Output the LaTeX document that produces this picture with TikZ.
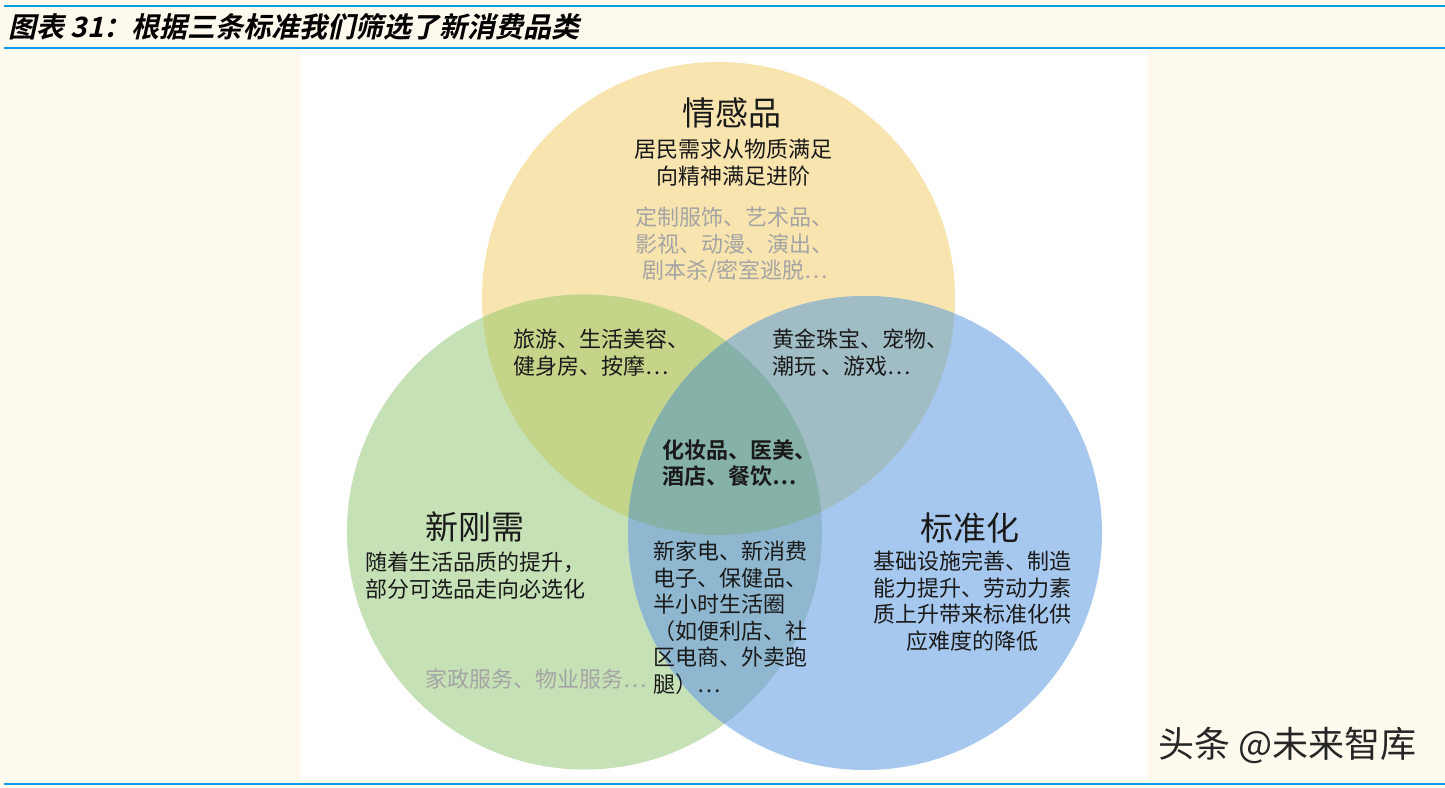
\documentclass[tikz,border=0pt]{standalone}
\usepackage{fontspec}
\newfontfamily\cjk{Noto Sans CJK SC}
\newfontfamily\cjkbold{Noto Sans CJK SC Bold}
\newfontfamily\titlefont[FakeSlant=0.22]{Noto Sans CJK SC Bold}
\definecolor{cream}{HTML}{FFF9EE}
\definecolor{rule}{HTML}{0A9BE0}
\definecolor{cY}{HTML}{F8E4AE}
\definecolor{cG}{HTML}{C6E1B6}
\definecolor{cB}{HTML}{A7C8EE}
\definecolor{cYG}{HTML}{C4D58A}
\definecolor{cYB}{HTML}{A0BCC4}
\definecolor{cGB}{HTML}{8FB8D0}
\definecolor{cYGB}{HTML}{86B1A8}
\definecolor{txt}{HTML}{1A1A1A}
\definecolor{gry}{HTML}{A4A4A4}
\tikzset{
  head/.style={inner sep=0pt, text=txt, font={\cjk\fontsize{33}{36}\selectfont}},
  body/.style={inner sep=0pt, text=txt, align=left, font={\cjk\fontsize{22}{26.5}\selectfont}},
  bodyc/.style={body, align=center},
  grey/.style={body, text=gry},
  boldbody/.style={body, font={\cjkbold\fontsize{22}{26.5}\selectfont}},
}
\begin{document}
\begin{tikzpicture}[x=1pt,y=-1pt]
\useasboundingbox (0,0) rectangle (1445,787);
\fill[cream] (0,0) rectangle (1445,787);
\fill[white] (300,49) rectangle (1148,780);
\draw[rule, line width=2.5pt] (4,6) -- (1445,6);
\draw[rule, line width=2.5pt] (4,48) -- (1445,48);
\draw[rule, line width=2.5pt] (4,784) -- (1445,784);
\node[inner sep=0pt, anchor=west, font={\titlefont\fontsize{28}{31}\selectfont}] (title) at (8,27) {图表 31：根据三条标准我们筛选了新消费品类};

% circles
\coordinate (Y) at (718.5,298.5);
\coordinate (G) at (584.5,532);
\coordinate (B) at (865,533);
\fill[cY] (Y) circle[radius=236.5pt];
\fill[cG] (G) circle[radius=237.5pt];
\fill[cB] (B) circle[radius=237pt];
\begin{scope}\clip (Y) circle[radius=236.5pt]; \fill[cYG] (G) circle[radius=237.5pt];\end{scope}
\begin{scope}\clip (Y) circle[radius=236.5pt]; \fill[cYB] (B) circle[radius=237pt];\end{scope}
\begin{scope}\clip (G) circle[radius=237.5pt]; \fill[cGB] (B) circle[radius=237pt];\end{scope}
\begin{scope}\clip (Y) circle[radius=236.5pt]; \clip (G) circle[radius=237.5pt]; \fill[cYGB] (B) circle[radius=237pt];\end{scope}

% yellow
\node[head] (yh) at (732,113) {情感品};
\node[bodyc, anchor=north] (yb) at (733,139) {居民需求从物质满足\\向精神满足进阶};
\node[grey, anchor=north west] (yg1) at (635,207) {定制服饰、艺术品、\\影视、动漫、演出、};
\node[grey, anchor=north west] (yg2) at (642,260) {剧本杀/密室逃脱…};
% yellow-green
\node[body, anchor=north west] (yg) at (513,329) {旅游、生活美容、\\健身房、按摩…};
% yellow-blue
\node[body, anchor=north west] (yb2) at (772,329) {黄金珠宝、宠物、\\潮玩 、游戏…};
% center
\node[boldbody, anchor=north west] (c) at (662,439) {化妆品、医美、\\酒店、餐饮…};
% green
\node[head] (gh) at (475,527) {新刚需};
\node[body, anchor=north west] (gb) at (365,552) {随着生活品质的提升，\\部分可选品走向必选化};
\node[grey, anchor=north west] (gg) at (425,669) {家政服务、物业服务…};
% green-blue
\node[body, anchor=north west] (gbx) at (653,541) {新家电、新消费\\电子、保健品、\\半小时生活圈\\（如便利店、社\\区电商、外卖跑\\腿）…};
% blue
\node[head] (bh) at (970,528) {标准化};
\node[bodyc, anchor=north] (bb) at (972,551) {基础设施完善、制造\\能力提升、劳动力素\\质上升带来标准化供\\应难度的降低};

% watermark
\node[inner sep=0pt, anchor=west, text=black!85, font={\cjk\fontsize{36}{39}\selectfont}] (wm) at (1158,745) {头条 @未来智库};
\end{tikzpicture}
\end{document}
